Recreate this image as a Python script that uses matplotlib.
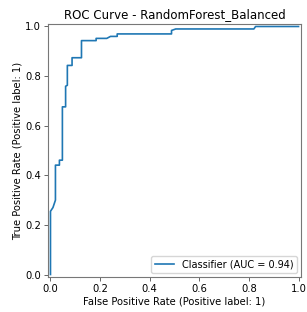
import numpy as np
import matplotlib
matplotlib.use("Agg")
import matplotlib.pyplot as plt

# ROC points
fpr = [0.0, 0.0, 0.01, 0.02, 0.02, 0.036, 0.036, 0.048, 0.048, 0.061, 0.061, 0.068,
       0.068, 0.087, 0.087, 0.125, 0.125, 0.184, 0.184, 0.227, 0.242, 0.269, 0.269,
       0.488, 0.488, 0.505, 0.82, 0.827, 1.0]
tpr = [0.0, 0.255, 0.27, 0.30, 0.441, 0.441, 0.461, 0.461, 0.676, 0.676, 0.759, 0.763,
       0.843, 0.843, 0.874, 0.874, 0.943, 0.943, 0.952, 0.952, 0.96, 0.96, 0.97,
       0.97, 0.984, 0.99, 0.99, 1.0, 1.0]
auc = 0.94
title = "ROC Curve - RandomForest_Balanced"

fig = plt.figure(figsize=(3.07, 3.12), dpi=100)
ax = fig.add_axes([48 / 307, 35 / 312, 253 / 307, 253 / 312])

ax.plot(fpr, tpr, color="#1f77b4", lw=1.2, label=f"Classifier (AUC = {auc:.2f})")
ax.set_xlim(-0.01, 1.01)
ax.set_ylim(-0.01, 1.01)
ax.set_xticks(np.arange(0, 1.01, 0.2))
ax.set_yticks(np.arange(0, 1.01, 0.2))

ax.set_title(title, fontsize=8.5, pad=4)
ax.set_xlabel("False Positive Rate (Positive label: 1)", fontsize=7.2, labelpad=2)
ax.set_ylabel("True Positive Rate (Positive label: 1)", fontsize=7.2, labelpad=2)
ax.tick_params(labelsize=7.2, length=3, width=0.7, color="#666666", pad=2)
for s in ax.spines.values():
    s.set_color("#777777")
    s.set_linewidth(0.8)

ax.legend(loc="lower right", fontsize=7, handlelength=2, borderaxespad=0.4,
          handletextpad=0.8, borderpad=0.35)

fig.savefig("out.png", dpi=100)
